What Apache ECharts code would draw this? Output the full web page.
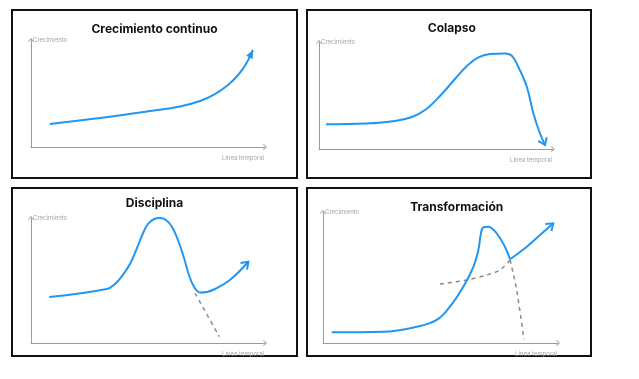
<!DOCTYPE html>
<html><head><meta charset="utf-8">
<script src="https://cdn.jsdelivr.net/npm/echarts@6/dist/echarts.min.js"></script>
<style>html,body{margin:0;padding:0;background:#fff}#c{width:639px;height:379px}</style>
</head><body><div id="c"></div>
<script>
// ---- text ----
const titles = ['Crecimiento continuo', 'Colapso', 'Disciplina', 'Transformación'];
const yAxisName = 'Crecimiento';
const xAxisName = 'Línea temporal';

// ---- data (time 0-100, growth 0-100 per panel) ----
// Panel 1: Crecimiento continuo
const continuoT = [8.1, 29.5, 50.9, 63.7, 72.2, 78.6, 84.2, 88.5, 91.9, 94.9];
const continuoG = [21.5, 27.1, 33.6, 37.9, 43.0, 49.5, 57.9, 67.3, 77.6, 90.7];
// Panel 2: Colapso
const colapsoT = [3.0, 20.1, 32.5, 39.7, 45.3, 51.7, 58.1, 63.2, 67.9, 73.1, 79.5, 82.5, 85.0, 88.8, 91.6, 94.4, 96.6];
const colapsoG = [23.1, 23.8, 26.2, 29.9, 36.4, 49.5, 65.4, 77.6, 85.5, 88.8, 89.3, 86.9, 77.6, 58.2, 33.4, 14.7, 3.7];
// Panel 3: Disciplina
const disciplinaT = [7.8, 32.4, 35.9, 38.9, 42.3, 45.3, 47.9, 50.0, 52.6, 55.1, 57.7, 60.3, 62.8, 65.4, 67.5, 69.7, 72.2, 75.2, 78.6, 85.0, 92.9];
const disciplinaG = [36.8, 43.2, 47.2, 53.6, 63.2, 76.0, 88.0, 95.2, 99.2, 100, 98.4, 92.8, 82.4, 68.0, 54.4, 44.8, 40.4, 40.8, 43.2, 50.4, 65.0];
const disciplinaCaidaT = [70.1, 80.5];
const disciplinaCaidaG = [39.8, 5.0];
// Panel 4: Transformación
const transfSubidaT = [3.7, 25.7, 39.9, 48.4, 54.0, 59.7, 64.0, 66.1, 67.2, 68.2, 70.3, 73.9, 77.4, 79.6];
const transfSubidaG = [8.2, 8.6, 12.4, 17.6, 27.7, 43.0, 58.2, 71.0, 83.7, 88.3, 88.8, 83.7, 73.5, 63.9];
const transfNuevaT = [79.6, 86.7, 92.3, 98.0];
const transfNuevaG = [63.9, 73.5, 82.4, 91.4];
const transfCurvaT = [49.8, 61.1, 69.7, 75.3, 79.6];
const transfCurvaG = [45.0, 48.1, 51.9, 55.7, 63.4];
const transfCaidaT = [79.6, 82.4, 85.5];
const transfCaidaG = [63.4, 40.5, 2.8];

// ---- styles / layout ----
const BLUE = '#2196f3';
const GRAY = '#8a8a8a';
const AXIS = '#9a9a9a';
const FONT = 'Inter, "Noto Sans", sans-serif';
const grids = [
  {left: 31, top: 40, width: 234, height: 107},
  {left: 319, top: 42, width: 234, height: 107},
  {left: 31, top: 218, width: 234, height: 125},
  {left: 323, top: 212, width: 235, height: 131}
];
const frames = [
  {x: 12, y: 10, width: 285, height: 168},
  {x: 307, y: 10, width: 284, height: 168},
  {x: 12, y: 188, width: 285, height: 168},
  {x: 307, y: 188, width: 284, height: 168}
];
const titlePos = [[154.5, 29], [451.8, 28], [154.5, 203.5], [456.7, 207]];
const chevron = 'path://M0,6 L5,0 L10,6 L9,6.8 L5,2 L1,6.8 Z';

const zip = (xs, ys) => xs.map((x, i) => [x, ys[i]]);

function axisCommon() {
  return {
    type: 'value', min: 0, max: 100,
    axisLine: {show: true, onZero: false, lineStyle: {color: AXIS, width: 1},
      symbol: ['none', chevron], symbolSize: [7, 4]},
    axisTick: {show: false}, axisLabel: {show: false}, splitLine: {show: false}
  };
}
const xAxes = grids.map((g, i) => Object.assign(axisCommon(), {
  gridIndex: i, name: xAxisName, nameLocation: 'end', nameGap: -1,
  nameTextStyle: {color: '#a5a5a5', fontSize: 6, fontFamily: FONT, align: 'right', verticalAlign: 'top', padding: [8, 0, 0, 0]}
}));
const yAxes = grids.map((g, i) => Object.assign(axisCommon(), {
  gridIndex: i, name: yAxisName, nameLocation: 'end', nameGap: 0,
  nameTextStyle: {color: '#a5a5a5', fontSize: 6, fontFamily: FONT, align: 'left', verticalAlign: 'middle', padding: [0, 0, 0, 2]}
}));

function curve(idx, xs, ys, dashed) {
  return {
    type: 'line', xAxisIndex: idx, yAxisIndex: idx, data: zip(xs, ys),
    smooth: dashed ? 0.3 : 0.4, showSymbol: false, symbol: 'none', silent: true,
    z: dashed ? 2 : 3,
    lineStyle: dashed ? {color: GRAY, width: 1.5, type: [4, 4]} : {color: BLUE, width: 2}
  };
}
function arrowHead(idx, xs, ys, filled) {
  const n = xs.length;
  return {
    type: 'custom', xAxisIndex: idx, yAxisIndex: idx, silent: true, z: 4, clip: false,
    data: [[xs[n - 2], ys[n - 2], xs[n - 1], ys[n - 1]]],
    encode: {x: [0, 2], y: [1, 3]},
    renderItem: (params, api) => {
      const a = api.coord([api.value(0), api.value(1)]);
      const b = api.coord([api.value(2), api.value(3)]);
      const ang = Math.atan2(b[1] - a[1], b[0] - a[0]);
      const L = filled ? 9 : 8, th = filled ? 0.42 : 0.62;
      const p1 = [b[0] - L * Math.cos(ang - th), b[1] - L * Math.sin(ang - th)];
      const p2 = [b[0] - L * Math.cos(ang + th), b[1] - L * Math.sin(ang + th)];
      return filled
        ? {type: 'polygon', shape: {points: [p1, b, p2]}, style: {fill: BLUE}}
        : {type: 'polyline', shape: {points: [p1, b, p2]}, style: {stroke: BLUE, lineWidth: 2, fill: null, lineJoin: 'miter'}};
    }
  };
}

const series = [
  curve(0, continuoT, continuoG), arrowHead(0, continuoT, continuoG, true),
  curve(1, colapsoT, colapsoG), arrowHead(1, colapsoT, colapsoG, false),
  curve(2, disciplinaT, disciplinaG), arrowHead(2, disciplinaT, disciplinaG, false),
  curve(2, disciplinaCaidaT, disciplinaCaidaG, true),
  curve(3, transfSubidaT, transfSubidaG),
  curve(3, transfNuevaT, transfNuevaG), arrowHead(3, transfNuevaT, transfNuevaG, false),
  curve(3, transfCurvaT, transfCurvaG, true),
  curve(3, transfCaidaT, transfCaidaG, true)
];

const graphic = [];
frames.forEach(f => graphic.push({type: 'rect', shape: f, silent: true, z: 0,
  style: {fill: null, stroke: '#111', lineWidth: 2}}));
titles.forEach((t, i) => graphic.push({type: 'text', x: titlePos[i][0], y: titlePos[i][1], silent: true,
  style: {text: t, fill: '#111', font: 'bold 12px ' + FONT, textAlign: 'center', textVerticalAlign: 'middle'}}));

const chart = echarts.init(document.getElementById('c'), null, {renderer: 'canvas'});
chart.setOption({
  backgroundColor: '#fff', animation: false,
  grid: grids.map(g => Object.assign({containLabel: false}, g)),
  xAxis: xAxes, yAxis: yAxes, series: series, graphic: graphic
});
</script></body></html>
